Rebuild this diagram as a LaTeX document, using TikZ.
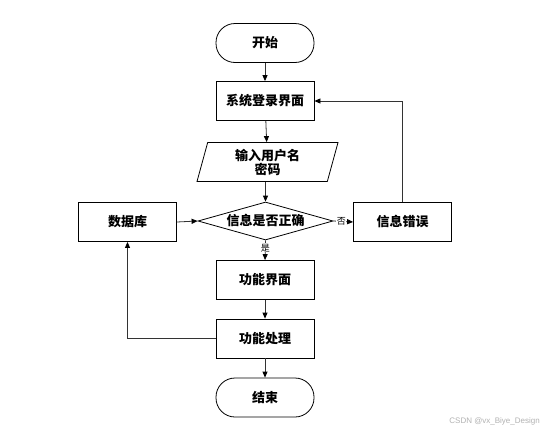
\documentclass[tikz,border=0pt]{standalone}
\usepackage{fontspec}
\newfontfamily\cjk{Noto Sans CJK SC}
\setsansfont{Liberation Sans}
\usetikzlibrary{arrows.meta,shapes.geometric,positioning}
\tikzset{
  boxs/.style={draw=black,line width=0.8pt,minimum width=98pt,minimum height=39pt,inner sep=0pt,font=\cjk\bfseries\fontsize{13}{15}\selectfont},
  term/.style={boxs,rounded corners=19pt},
  para/.style={draw=black,line width=0.8pt,trapezium,trapezium left angle=68,trapezium right angle=112,minimum width=141pt,minimum height=39pt,inner sep=0pt,trapezium stretches=true,font=\cjk\bfseries\fontsize{13}{15}\selectfont,align=center},
  dia/.style={draw=black,line width=0.8pt,diamond,minimum width=135pt,minimum height=38pt,inner sep=0pt,shape aspect=3.55,font=\cjk\bfseries\fontsize{13}{15}\selectfont},
  conn/.style={draw=black!80,line width=0.8pt,-{Triangle[length=6pt,width=5pt,fill=black,color=black]}},
  lbl/.style={font=\cjk\fontsize{9}{10}\selectfont,fill=white,inner sep=0.5pt}
}
\begin{document}
\begin{tikzpicture}[x=1pt,y=-1pt]
\useasboundingbox[fill=white] (0,0) rectangle (543,434);
\node[term] (start) at (265,43) {开始};
\node[boxs] (login) at (265,101) {系统登录界面};
\node[para,trapezium stretches body] (input) at (267.5,162) {输入用户名\\[-1pt]密码};
\node[dia] (check) at (265.5,221) {信息是否正确};
\node[boxs] (db) at (127.5,222) {数据库};
\node[boxs] (err) at (402.5,222) {信息错误};
\node[boxs] (func) at (265,280) {功能界面};
\node[boxs] (proc) at (265,338.5) {功能处理};
\node[term] (end) at (265,397.5) {结束};
\coordinate (errup) at (402.5,101);
\coordinate (dbdown) at (127.5,338.5);
\draw[conn] (start) -- (login);
\draw[conn] (login) -- (input);
\draw[conn] (input.south -| check.north) -- (check.north);
\draw[conn] (check.east) -- node[lbl,pos=0.4]{否} (err.west);
\draw[conn] (check.south) -- node[lbl,pos=0.38]{是} (func.north);
\draw[conn] (db.east) -- (check.west);
\draw[conn] (err.north) -- (errup) -- (login.east);
\draw[conn] (func) -- (proc);
\draw[conn] (proc) -- (end);
\draw[conn] (proc.west) -- (dbdown) -- (db.south);
\node[font=\sffamily\fontsize{8}{9}\selectfont,text=black!30,anchor=east,inner sep=0pt] (wm) at (540,421) {CSDN @vx\_Biye\_Design};
\end{tikzpicture}
\end{document}
